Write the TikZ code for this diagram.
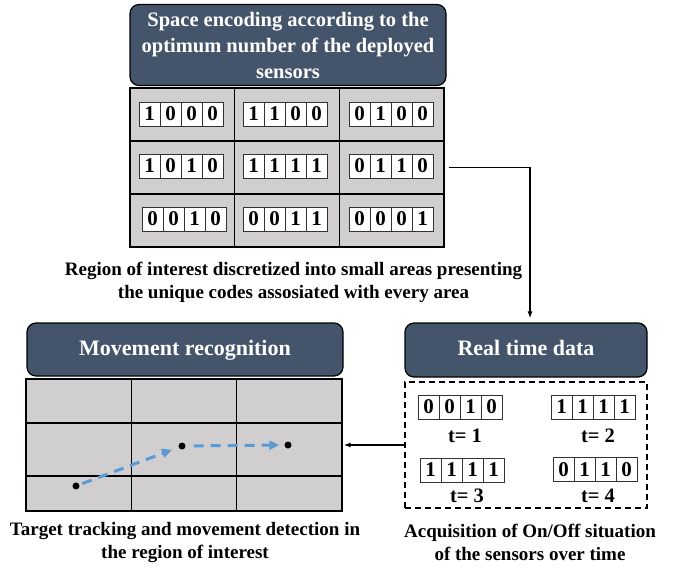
\documentclass[tikz,border=0pt]{standalone}
\usepackage{fontspec}
\setmainfont{Liberation Serif}
\usetikzlibrary{arrows.meta,positioning}
\definecolor{headblue}{RGB}{68,84,106}
\definecolor{cellgray}{RGB}{208,206,206}
\definecolor{pathblue}{RGB}{91,155,213}

% one code word of four bits, centred at (x,y)
\newcommand{\codeword}[4]{%
	\foreach \bitval [count=\i] in {#4}
		\node[bit] (#1-\i) at ({#2+(\i-2.5)*21},#3) {\bitval};}

\begin{document}
\begin{tikzpicture}[x=1pt, y=-1pt,
	header/.style = {draw=black, line width=1.2pt, fill=headblue, rounded corners=9pt, text=white, align=center, font=\fontsize{22}{26}\selectfont\bfseries},
	oneline/.style = {text height=14pt, text depth=3pt},
	cell/.style = {draw=black, line width=1.5pt, fill=cellgray, inner sep=0pt},
	bit/.style = {draw=black!80, line width=0.8pt, fill=white, minimum width=21pt, minimum height=24pt, inner sep=0pt, font=\fontsize{21}{21}\selectfont\bfseries},
	caption/.style = {align=center, font=\fontsize{19}{23}\selectfont\bfseries},
	tlabel/.style = {font=\fontsize{20.5}{20.5}\selectfont\bfseries},
	dot/.style = {circle, fill=black, minimum size=7pt, inner sep=0pt},
	link/.style = {line width=1.2pt, -{Latex[length=7pt,width=5pt]}},
	track/.style = {pathblue, line width=3pt, dash pattern=on 10pt off 7pt, -{Triangle[length=10pt,width=9pt]}}]
	\useasboundingbox (0,0) rectangle (683,570);

	% space encoding
	\node[header, minimum width=316pt, minimum height=81pt, font=\fontsize{20.5}{26}\selectfont\bfseries] (enc) at (288,45) {Space encoding according to the\\optimum number of the deployed\\sensors};
	\foreach \r in {1,2,3}
		\foreach \c in {1,2,3}
			\node[cell, minimum width=104.7pt, minimum height=53pt] (s\r\c) at ({130+(\c-0.5)*104.7},{88+(\r-0.5)*53}) {};
	\codeword{a11}{181}{114}{1,0,0,0}
	\codeword{a12}{285}{114}{1,1,0,0}
	\codeword{a13}{391}{114}{0,1,0,0}
	\codeword{a21}{181}{166}{1,0,1,0}
	\codeword{a22}{285}{166}{1,1,1,1}
	\codeword{a23}{391}{166}{0,1,1,0}
	\codeword{a31}{184}{219}{0,0,1,0}
	\codeword{a32}{285}{219}{0,0,1,1}
	\codeword{a33}{391}{219}{0,0,0,1}
	\node[caption] (capenc) at (293.5,282) {Region of interest discretized into small areas presenting\\the unique codes assosiated with every area};

	% real time data
	\node[header, oneline, minimum width=242pt, minimum height=54pt] (rt) at (526,350) {Real time data};
	\node[draw=black, line width=1.5pt, dash pattern=on 6pt off 4pt, minimum width=242pt, minimum height=126pt] (acq) at (526,445) {};
	\codeword{t1}{460}{407}{0,0,1,0}
	\codeword{t2}{593}{407}{1,1,1,1}
	\codeword{t3}{462}{470}{1,1,1,1}
	\codeword{t4}{595}{469.5}{0,1,1,0}
	\node[tlabel] (lt1) at (465,436) {t= 1};
	\node[tlabel] (lt2) at (598,436) {t= 2};
	\node[tlabel] (lt3) at (467,496) {t= 3};
	\node[tlabel] (lt4) at (598,496) {t= 4};
	\node[caption] (capacq) at (530,542) {Acquisition of On/Off situation\\of the sensors over time};

	% movement recognition
	\node[header, oneline, minimum width=316pt, minimum height=53pt] (mov) at (185,349.5) {Movement recognition};
	\foreach \r/\yc/\h in {1/401/44, 2/449.5/53, 3/493.5/35}
		\foreach \c in {1,2,3}
			\node[cell, minimum width=105.3pt, minimum height=\h pt] (m\r\c) at ({26+(\c-0.5)*105.3},\yc) {};
	\node[dot] (p1) at (76,486) {};
	\node[dot] (p2) at (182,446) {};
	\node[dot] (p3) at (288,445) {};
	\draw[track, shorten <=3pt, shorten >=7pt] (p1) -- (p2);
	\draw[track, shorten <=8pt, shorten >=5pt] (p2) -- (p3);
	\node[caption] (capmov) at (185,542) {Target tracking and movement detection in\\the region of interest};

	% connectors
	\draw[link, shorten >=4pt] ([xshift=4pt]s23.east) -| ([xshift=4pt]rt.north);
	\draw[link, shorten >=1pt] (acq.west) -- (acq.west -| m23.east);
\end{tikzpicture}
\end{document}
